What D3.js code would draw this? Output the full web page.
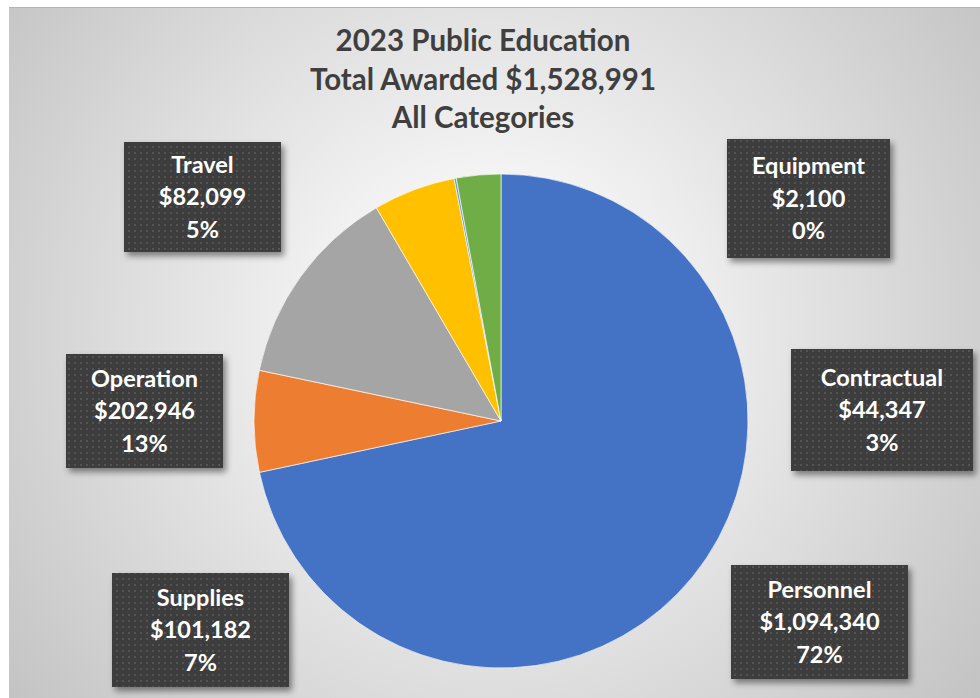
<!DOCTYPE html>
<html>
<head>
<meta charset="utf-8">
<script src="https://cdn.jsdelivr.net/npm/d3@7"></script>
<style>
  html, body { margin: 0; padding: 0; background: #ffffff; }
  svg { display: block; }
</style>
</head>
<body>
<svg id="chart" width="980" height="698"></svg>
<script>
// ---- data ----
const titleLines = ["2023 Public Education", "Total Awarded $1,528,991", "All Categories"];
const categories = ["Personnel", "Supplies", "Operation", "Travel", "Equipment", "Contractual"];
const amounts = [1094340, 101182, 202946, 82099, 2100, 44347];
const colors = ["#4472C4", "#ED7D31", "#A5A5A5", "#FFC000", "#5B9BD5", "#70AD47"];

// ---- layout (label box rectangles: x, y, w, h) ----
const boxLayout = {
  "Personnel":   [731, 565, 177, 114],
  "Supplies":    [112, 573, 177, 114],
  "Operation":   [66, 354, 157, 114],
  "Travel":      [124, 142, 157, 110],
  "Equipment":   [727, 139, 163, 119],
  "Contractual": [791, 349, 182, 122]
};

const W = 980, H = 698;
const svg = d3.select("#chart");
const defs = svg.append("defs");

const grad = defs.append("radialGradient").attr("id", "bg")
  .attr("gradientUnits", "userSpaceOnUse")
  .attr("cx", 490).attr("cy", 330).attr("r", 640);
grad.append("stop").attr("offset", "0%").attr("stop-color", "#ffffff");
grad.append("stop").attr("offset", "25%").attr("stop-color", "#f3f3f3");
grad.append("stop").attr("offset", "100%").attr("stop-color", "#c0c0c0");

const pat = defs.append("pattern").attr("id", "dots")
  .attr("patternUnits", "userSpaceOnUse").attr("width", 6).attr("height", 6);
pat.append("rect").attr("width", 6).attr("height", 6).attr("fill", "#3c3c3c");
pat.append("rect").attr("x", 2).attr("y", 2).attr("width", 2).attr("height", 2).attr("fill", "#525252");

const sh = defs.append("filter").attr("id", "shadow")
  .attr("x", "-20%").attr("y", "-20%").attr("width", "140%").attr("height", "140%");
sh.append("feDropShadow").attr("dx", 3).attr("dy", 4).attr("stdDeviation", 3)
  .attr("flood-color", "#000").attr("flood-opacity", 0.45);

// chart area
svg.append("rect").attr("x", 9).attr("y", 7).attr("width", W - 9).attr("height", H - 7)
  .attr("fill", "url(#bg)");
svg.append("line").attr("x1", 9).attr("x2", W).attr("y1", 7.5).attr("y2", 7.5)
  .attr("stroke", "#b5b5b5").attr("stroke-width", 1);

// title
svg.append("g").selectAll("text").data(titleLines).join("text")
  .attr("x", 483).attr("y", (d, i) => 41 + i * 38.5)
  .attr("dy", "0.35em")
  .attr("text-anchor", "middle")
  .attr("font-family", "Lato, 'Open Sans', sans-serif")
  .attr("font-weight", 700)
  .attr("font-size", 29.5)
  .attr("fill", "#3f3f3f")
  .text(d => d);

// pie
const data = categories.map((c, i) => ({ name: c, value: amounts[i], color: colors[i] }));
const total = d3.sum(amounts);
const pie = d3.pie().sort(null).value(d => d.value);
const arc = d3.arc().innerRadius(0).outerRadius(247);
const cx = 501, cy = 421;

svg.append("g").attr("transform", `translate(${cx},${cy})`)
  .selectAll("path").data(pie(data)).join("path")
  .attr("d", arc)
  .attr("fill", d => d.data.color)
  .attr("stroke", "#ffffff").attr("stroke-width", 0.8).attr("stroke-opacity", 0.8);

// label boxes
const fmtMoney = v => "$" + d3.format(",")(v);
const fmtPct = d3.format(".0%");
const lg = svg.append("g").selectAll("g").data(data).join("g");
lg.append("rect")
  .attr("x", d => boxLayout[d.name][0]).attr("y", d => boxLayout[d.name][1])
  .attr("width", d => boxLayout[d.name][2]).attr("height", d => boxLayout[d.name][3])
  .attr("fill", "url(#dots)")
  .attr("filter", "url(#shadow)");
lg.each(function(d) {
  const [x, y, w, h] = boxLayout[d.name];
  const lines = [d.name, fmtMoney(d.value), fmtPct(d.value / total)];
  d3.select(this).selectAll("text").data(lines).join("text")
    .attr("x", x + w / 2)
    .attr("y", (t, i) => y + h / 2 + (i - 1) * 32.5)
    .attr("dy", "0.35em")
    .attr("text-anchor", "middle")
    .attr("font-family", "Lato, 'Open Sans', sans-serif")
    .attr("font-weight", 700)
    .attr("font-size", 23.5)
    .attr("fill", "#ffffff")
    .text(t => t);
});
</script>
</body>
</html>
